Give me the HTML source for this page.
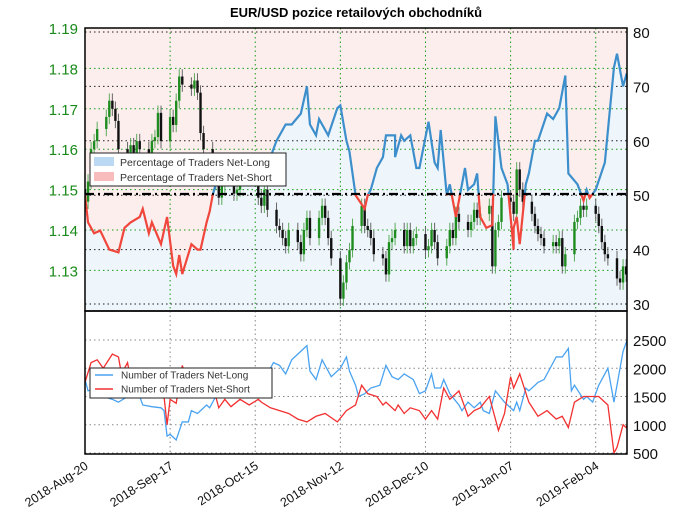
<!DOCTYPE html>
<html><head><meta charset="utf-8"><style>
html,body{margin:0;padding:0;background:#fff;}
svg{display:block;font-family:"Liberation Sans",sans-serif;}
</style></head><body>
<svg id="chart" width="680" height="518" viewBox="0 0 680 518" xmlns="http://www.w3.org/2000/svg">
<defs>
<clipPath id="topClip"><rect x="85" y="28" width="542" height="283"/></clipPath>
<clipPath id="aboveClip"><rect x="85" y="28" width="542" height="166"/></clipPath>
<clipPath id="belowClip"><rect x="85" y="194" width="542" height="117"/></clipPath>
<clipPath id="botClip"><rect x="85" y="311" width="542" height="143"/></clipPath>
</defs>
<text x="356" y="17" text-anchor="middle" font-size="13" font-weight="bold">EUR/USD pozice retailových obchodníků</text>
<rect x="85" y="28" width="542" height="283" fill="#fdeeee"/>
<g id="topArea" clip-path="url(#topClip)"></g>
<g id="topGrid"></g>
<g id="candles" clip-path="url(#topClip)"></g>
<g id="pctLine"></g>
<line x1="85" y1="194" x2="627" y2="194" stroke="#000" stroke-width="2.2" stroke-dasharray="9,4,2,4"/>
<rect x="85" y="28" width="542" height="283" fill="none" stroke="#000" stroke-width="1.5"/>
<g id="botGrid"></g>
<g id="countLines" clip-path="url(#botClip)"></g>
<rect x="85" y="311" width="542" height="143" fill="none" stroke="#000" stroke-width="1.5"/>
<g id="axes"></g>
<g>
<rect x="90" y="153" width="196" height="33" fill="#fff" stroke="#222" stroke-width="1"/>
<rect x="94" y="157" width="20" height="9" fill="#bcd9f3"/>
<text x="120" y="166" font-size="10.5" fill="#333">Percentage of Traders Net-Long</text>
<rect x="94" y="172" width="20" height="9" fill="#f9bcbc"/>
<text x="120" y="181" font-size="10.5" fill="#333">Percentage of Traders Net-Short</text>
</g>
<g>
<rect x="90" y="368" width="182" height="30" fill="#fff" stroke="#222" stroke-width="1"/>
<line x1="95" y1="375" x2="113" y2="375" stroke="#4aa3f0" stroke-width="1.5"/>
<text x="121" y="378.5" font-size="10" fill="#333">Number of Traders Net-Long</text>
<line x1="95" y1="389" x2="113" y2="389" stroke="#f23030" stroke-width="1.5"/>
<text x="121" y="392.5" font-size="10" fill="#333">Number of Traders Net-Short</text>
</g>
</svg>
<script>
const closes = [
1.147,1.152,1.160,1.162,1.165, 1.168,1.172,1.170,1.167,1.160, 1.158,1.161,1.158,1.162,1.160,
1.158,1.162,1.163,1.169,1.162, 1.168,1.166,1.172,1.178,1.176, 1.175,1.177,1.174,1.164,1.160,
1.155,1.152,1.148,1.151,1.152, 1.149,1.150,1.153,1.156,1.157, 1.153,1.148,1.146,1.150,1.145,
1.141,1.140,1.138,1.136,1.140, 1.137,1.134,1.140,1.143,1.138, 1.143,1.146,1.143,1.138,1.133,
1.123,1.127,1.132,1.135,1.141, 1.146,1.141,1.140,1.138,1.134, 1.133,1.129,1.137,1.138,1.140,
1.136,1.140,1.136,1.138,1.139, 1.135,1.136,1.140,1.137,1.133, 1.136,1.140,1.138,1.144,1.142,
1.140,1.142,1.145,1.143,1.144, 1.146,1.131,1.140,1.142,1.148, 1.147,1.144,1.155,1.150,1.147,
1.144,1.141,1.139,1.138,1.136, 1.137,1.136,1.138,1.131,1.134, 1.142,1.143,1.146,1.145,1.146,
1.144,1.141,1.137,1.134,1.133, 1.128,1.127,1.131,1.129];
const firstOpen = 1.150;
const pctDays = [0,1,3,5,8,11,13,15,18,19,21,22,25,27,29,30,31,32,35,37,38,40,41,42,44,45,47,50,53,55,58,61,63,66,68,71,73,74,76,77,80,83,84,86,87,89,92,93,94,96,98,99,102,102,104,105,107,109,110,113,115,116,117,119,120,122,125,126,128,129,130,132,134,135,137,139,141,141,142,143,145,146,148,149,152,154,156,158,159,162,164,165,166,168,171,174,175,177,178,179];
const pctLong = [50,45,43,43.5,40,39.5,44,45,46,47.5,43,45,41,46,37,35.5,39,35.5,41,40,40,45,47,50,54,56.5,55,56,53,56,56,57,60,63,63,65,70,63,61,64,61,66,66.5,60,58,50,47.5,50,51,55,57,61,61,57,61,60,61,55,55,63.5,56,55,62,50,52,46,55,51,52,54,46,44,44.5,64.5,55,52,40,44,46,41,52,54,60,60,65,64,66,72,54,52,49,51,49.5,51,56,73.5,76,70,72,71];
const longDays = [0,1,4,6,9,11,14,17,19,22,25,26,27,28,30,32,34,35,37,40,41,43,45,48,53,56,58,61,62,64,66,68,70,73,74,76,78,79,81,84,86,87,89,90,92,94,97,99,101,103,105,108,110,112,114,115,117,118,120,123,124,126,128,130,131,133,135,138,141,142,143,145,146,149,151,153,155,157,159,160,161,164,165,167,169,172,174,177,179];
const longCounts = [1800,1600,1650,1500,1450,1400,1500,1650,1350,1320,1300,1250,800,830,730,1050,1050,1250,1200,1350,1300,1500,1700,1650,1800,1750,2000,2000,2100,2050,1900,2150,2250,2400,1950,1800,2150,2050,1850,2000,2200,1950,1700,1500,1550,1650,1700,2050,1850,1800,1900,1800,1550,1600,1900,1650,1650,1800,1550,1350,1250,1400,1300,1400,1250,1200,1600,1400,1250,1400,1250,1650,1600,1750,1800,2000,2200,2200,2350,1600,1700,1450,1500,1400,1700,2000,1400,2300,2600];
const shortDays = [0,2,4,6,9,11,12,14,15,18,20,22,24,26,27,28,30,32,34,37,40,43,44,46,48,51,54,57,58,61,64,67,70,73,76,79,83,86,89,91,93,96,98,99,102,103,105,107,110,112,114,116,118,120,123,125,126,128,130,133,136,138,140,141,143,146,149,152,155,157,159,161,164,167,169,172,174,175,177,178,179];
const shortCounts = [1750,2100,2150,2000,2250,2200,1900,2100,1800,1700,1550,1750,1700,1500,1000,1450,1380,2050,1700,1500,1500,1500,1300,1450,1320,1450,1350,1450,1400,1300,1250,1200,1100,1050,1150,1200,1050,1250,1350,1700,1550,1500,1350,1400,1250,1350,1200,1300,1250,1100,1250,1100,1650,1450,1600,1300,1150,1250,1300,1500,900,1200,1850,1650,1900,1400,1150,1250,1100,1150,950,1400,1500,1500,1500,1350,500,600,1000,950,1070];
const dateLabels = ["2018-Aug-20","2018-Sep-17","2018-Oct-15","2018-Nov-12","2018-Dec-10","2019-Jan-07","2019-Feb-04"];
const dateTickDays = [0,28,56,84,112,140,168];
const priceTicks = [1.13,1.14,1.15,1.16,1.17,1.18,1.19];
const pctTicks = [30,40,50,60,70,80];
const countTicks = [500,1000,1500,2000,2500];

const NS="http://www.w3.org/2000/svg";
const X = d => 85 + d*3.04;
const YP = p => 28 + (1.19-p)*4040;
const YV = v => 32 + (80-v)*5.44;
const YC = c => 453 - (c-500)*0.0565;
function mk(parent, tag, attrs){const e=document.createElementNS(NS,tag);for(const k in attrs)e.setAttribute(k,attrs[k]);parent.appendChild(e);return e;}
const g = id => document.getElementById(id);

let pts = pctDays.map((d,i)=>X(d)+","+YV(pctLong[i])).join(" ");
let area = mk(g("topArea"),"polygon",{points:X(pctDays[0])+",311 "+pts+" "+X(pctDays[pctDays.length-1])+",311",fill:"#eef5fb"});



pctTicks.forEach(v=>{const l=mk(g("topGrid"),"line",{x1:85,x2:627,y1:YV(v),y2:YV(v),stroke:"#222","stroke-width":1,"stroke-dasharray":"1.5,3"});

});
priceTicks.forEach(p=>{const l=mk(g("topGrid"),"line",{x1:85,x2:627,y1:YP(p),y2:YP(p),stroke:"#1a9a1a","stroke-width":1,"stroke-dasharray":"1.5,3"});

});
dateTickDays.forEach(d=>{const l=mk(g("topGrid"),"line",{x1:X(d),x2:X(d),y1:28,y2:311,stroke:"#1a9a1a","stroke-width":1,"stroke-dasharray":"1.5,3"});

});

let prev = firstOpen;
closes.forEach((c,i)=>{
  const day = Math.floor(i/5)*7 + (i%5);
  const o = prev; prev = c;
  const up = c>=o;
  const col = up?"#1e8c1e":"#111";
  const hi = Math.max(o,c)+0.0018, lo = Math.min(o,c)-0.0018;
  const w = mk(g("candles"),"line",{x1:X(day),x2:X(day),y1:YP(hi),y2:YP(lo),stroke:up?"#5aaa5a":"#666","stroke-width":1});
  
  
  const b = mk(g("candles"),"rect",{x:X(day)-1.2,y:YP(Math.max(o,c)),width:2.4,height:Math.max(1,Math.abs(YP(o)-YP(c))),fill:col});
  
  
});

const bl = mk(g("pctLine"),"polyline",{points:pts,fill:"none",stroke:"#3d8fcc","stroke-width":2.2,"clip-path":"url(#aboveClip)"});


const rl = mk(g("pctLine"),"polyline",{points:pts,fill:"none",stroke:"#f0463c","stroke-width":2.2,"clip-path":"url(#belowClip)"});



countTicks.forEach(c=>{const l=mk(g("botGrid"),"line",{x1:85,x2:627,y1:YC(c),y2:YC(c),stroke:"#888","stroke-width":1,"stroke-dasharray":"1.5,3"});

});
dateTickDays.forEach(d=>{const l=mk(g("botGrid"),"line",{x1:X(d),x2:X(d),y1:311,y2:454,stroke:"#888","stroke-width":1,"stroke-dasharray":"1.5,3"});

});

const ll = mk(g("countLines"),"polyline",{points:longDays.map((d,i)=>X(d)+","+YC(longCounts[i])).join(" "),fill:"none",stroke:"#4aa3f0","stroke-width":1.3});


const sl = mk(g("countLines"),"polyline",{points:shortDays.map((d,i)=>X(d)+","+YC(shortCounts[i])).join(" "),fill:"none",stroke:"#f23030","stroke-width":1.3});



const ax = g("axes");
priceTicks.forEach(p=>{const t=mk(ax,"text",{x:78,y:YP(p)+6,"text-anchor":"end","font-size":15,fill:"#1a8a1a"});t.textContent=p.toFixed(2);

});
pctTicks.forEach(v=>{const t=mk(ax,"text",{x:633,y:YV(v)+6,"font-size":15,fill:"#111"});t.textContent=v;

});
countTicks.forEach(c=>{const t=mk(ax,"text",{x:633,y:YC(c)+6,"font-size":15,fill:"#111"});t.textContent=c;

});
dateTickDays.forEach((d,i)=>{const t=mk(ax,"text",{x:X(d)+4,y:468,"text-anchor":"end","font-size":12.5,fill:"#111",transform:"rotate(-33 "+(X(d)+4)+" 468)"});t.textContent=dateLabels[i];

});
</script>
</body></html>
